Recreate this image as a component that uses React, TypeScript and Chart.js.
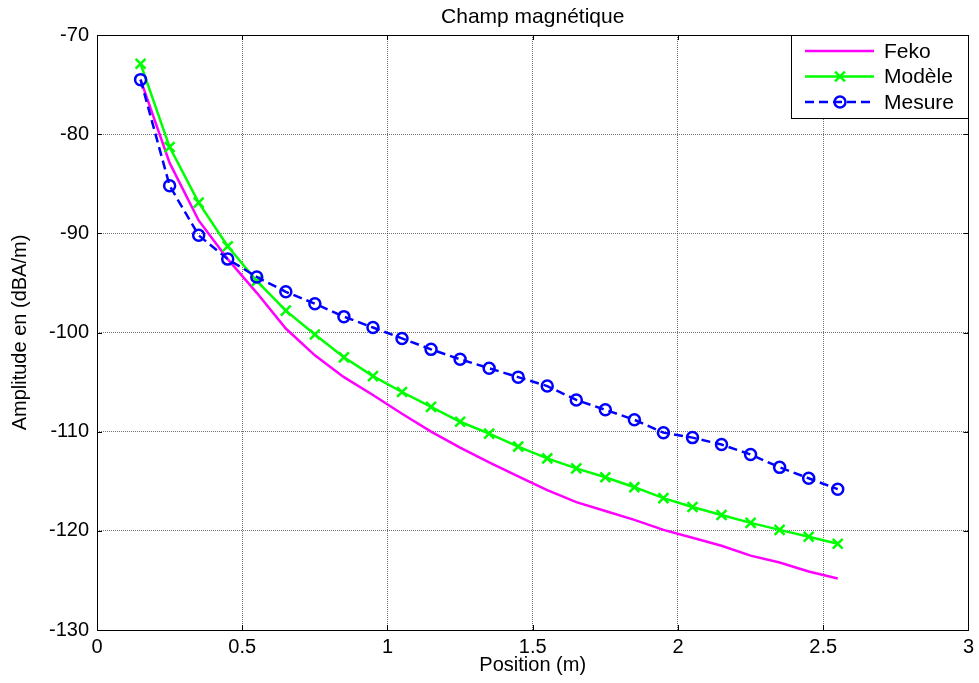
import React, { useEffect, useRef } from "react";
import { Chart, registerables } from "chart.js";

Chart.register(...registerables);

const positions = [0.15, 0.25, 0.35, 0.45, 0.55, 0.65, 0.75, 0.85, 0.95, 1.05, 1.15, 1.25, 1.35, 1.45, 1.55, 1.65, 1.75, 1.85, 1.95, 2.05, 2.15, 2.25, 2.35, 2.45, 2.55];
const feko = [-74.5, -82.9, -88.7, -92.6, -96.0, -99.6, -102.3, -104.5, -106.3, -108.2, -110.0, -111.6, -113.1, -114.5, -115.9, -117.1, -118.0, -118.9, -119.9, -120.7, -121.5, -122.5, -123.2, -124.1, -124.8];
const modele = [-72.9, -81.3, -86.9, -91.3, -94.8, -97.8, -100.2, -102.5, -104.4, -106.0, -107.5, -109.0, -110.2, -111.5, -112.7, -113.7, -114.6, -115.6, -116.7, -117.6, -118.4, -119.2, -119.9, -120.6, -121.3];
const mesure = [-74.5, -85.2, -90.2, -92.6, -94.4, -95.9, -97.1, -98.4, -99.5, -100.6, -101.7, -102.7, -103.6, -104.5, -105.4, -106.8, -107.8, -108.8, -110.1, -110.6, -111.3, -112.3, -113.6, -114.7, -115.8];
const xTicks = [0, 0.5, 1, 1.5, 2, 2.5, 3];
const yTicks = [-130, -120, -110, -100, -90, -80, -70];
const seriesLabels = ["Feko", "Modèle", "Mesure"];
const titleText = "Champ magnétique";
const xTitle = "Position (m)";
const yTitle = "Amplitude en (dBA/m)";

const FONT = "'Liberation Sans', Arial, Helvetica, sans-serif";

function drawMarker(ctx: CanvasRenderingContext2D, style: string, x: number, y: number, r: number) {
  ctx.beginPath();
  if (style === "crossRot") {
    ctx.moveTo(x - r * 0.7071, y - r * 0.7071);
    ctx.lineTo(x + r * 0.7071, y + r * 0.7071);
    ctx.moveTo(x + r * 0.7071, y - r * 0.7071);
    ctx.lineTo(x - r * 0.7071, y + r * 0.7071);
  } else if (style === "circle") {
    ctx.arc(x, y, r, 0, Math.PI * 2);
  }
  ctx.stroke();
}

const boxPlugin = {
  id: "matlabBox",
  afterDatasetsDraw(chart: any) {
    const { ctx, chartArea: ca, scales } = chart;
    ctx.save();
    ctx.strokeStyle = "#000";
    ctx.lineWidth = 1;
    ctx.setLineDash([]);
    ctx.strokeRect(Math.round(ca.left) + 0.5, Math.round(ca.top) + 0.5, Math.round(ca.right - ca.left), Math.round(ca.bottom - ca.top));
    const tl = 5;
    ctx.beginPath();
    for (const v of xTicks) {
      const px = Math.round(scales.x.getPixelForValue(v)) + 0.5;
      ctx.moveTo(px, ca.bottom);
      ctx.lineTo(px, ca.bottom - tl);
      ctx.moveTo(px, ca.top);
      ctx.lineTo(px, ca.top + tl);
    }
    for (const v of yTicks) {
      const py = Math.round(scales.y.getPixelForValue(v)) + 0.5;
      ctx.moveTo(ca.left, py);
      ctx.lineTo(ca.left + tl, py);
      ctx.moveTo(ca.right, py);
      ctx.lineTo(ca.right - tl, py);
    }
    ctx.stroke();
    ctx.restore();
  },
};

const legendPlugin = {
  id: "matlabLegend",
  afterDraw(chart: any) {
    const { ctx, chartArea: ca } = chart;
    const w = 177;
    const h = 83;
    const x0 = Math.round(ca.right) - w;
    const y0 = Math.round(ca.top);
    ctx.save();
    ctx.fillStyle = "#fff";
    ctx.fillRect(x0, y0, w, h);
    ctx.strokeStyle = "#000";
    ctx.lineWidth = 1;
    ctx.setLineDash([]);
    ctx.strokeRect(x0 + 0.5, y0 + 0.5, w, h);
    chart.data.datasets.forEach((ds: any, i: number) => {
      const y = y0 + 16 + i * 25.5;
      ctx.setLineDash(ds.borderDash || []);
      ctx.strokeStyle = ds.borderColor;
      ctx.lineWidth = ds.borderWidth;
      ctx.beginPath();
      ctx.moveTo(x0 + 14, y);
      ctx.lineTo(x0 + 83, y);
      ctx.stroke();
      ctx.setLineDash([]);
      if (ds.pointRadius > 0) {
        ctx.lineWidth = ds.pointBorderWidth;
        ctx.strokeStyle = ds.pointBorderColor;
        drawMarker(ctx, ds.pointStyle, x0 + 49, y, ds.pointRadius);
      }
      ctx.fillStyle = "#000";
      ctx.font = `21px ${FONT}`;
      ctx.textBaseline = "middle";
      ctx.textAlign = "left";
      ctx.fillText(ds.label, x0 + 93, y + 1);
    });
    ctx.restore();
  },
};

export default function App() {
  const canvasRef = useRef<HTMLCanvasElement | null>(null);

  useEffect(() => {
    if (!canvasRef.current) return;
    const toPts = (ys: number[]) => positions.map((x, i) => ({ x, y: ys[i] }));
    const chart = new Chart(canvasRef.current, {
      type: "line",
      data: {
        datasets: [
          {
            label: seriesLabels[0],
            data: toPts(feko),
            borderColor: "#ff00ff",
            backgroundColor: "#ff00ff",
            borderWidth: 2.5,
            pointRadius: 0,
            pointHoverRadius: 0,
            fill: false,
            tension: 0,
            order: 2,
          },
          {
            label: seriesLabels[1],
            data: toPts(modele),
            borderColor: "#00ff00",
            backgroundColor: "#00ff00",
            borderWidth: 2.5,
            pointStyle: "crossRot",
            pointRadius: 7,
            pointBorderWidth: 2.5,
            pointBorderColor: "#00ff00",
            pointBackgroundColor: "#00ff00",
            fill: false,
            tension: 0,
            order: 1,
          },
          {
            label: seriesLabels[2],
            data: toPts(mesure),
            borderColor: "#0000ff",
            backgroundColor: "rgba(0,0,0,0)",
            borderWidth: 2.5,
            borderDash: [9, 5],
            pointStyle: "circle",
            pointRadius: 5.5,
            pointBorderWidth: 2.5,
            pointBorderColor: "#0000ff",
            pointBackgroundColor: "rgba(0,0,0,0)",
            fill: false,
            tension: 0,
            order: 0,
          },
        ],
      },
      options: {
        responsive: false,
        animation: false,
        events: [],
        layout: { padding: { left: 0, right: 6, top: 0, bottom: 0 } },
        plugins: {
          legend: { display: false },
          tooltip: { enabled: false },
          title: {
            display: true,
            text: titleText,
            fullSize: false,
            color: "#000",
            font: { family: FONT, size: 21, weight: "normal", lineHeight: 1.2 },
            padding: { top: 4.4, bottom: 5.4 },
          },
        },
        scales: {
          x: {
            type: "linear",
            min: 0,
            max: 3,
            afterBuildTicks: (s: any) => {
              s.ticks = xTicks.map((v) => ({ value: v }));
            },
            afterFit: (s: any) => {
              s.height = 53;
            },
            ticks: {
              color: "#000",
              padding: 5,
              maxRotation: 0,
              autoSkip: false,
              font: { family: FONT, size: 20, lineHeight: 1.2 },
              callback: (v: any) => String(v),
            },
            grid: { color: "rgba(0,0,0,0.55)", lineWidth: 1, drawTicks: false },
            border: { display: false, dash: [1, 1] },
            title: {
              display: true,
              text: xTitle,
              color: "#000",
              font: { family: FONT, size: 20, lineHeight: 1.2 },
              padding: { top: 0, bottom: 6 },
            },
          },
          y: {
            type: "linear",
            min: -130,
            max: -70,
            afterBuildTicks: (s: any) => {
              s.ticks = yTicks.map((v) => ({ value: v }));
            },
            afterFit: (s: any) => {
              s.width = 97;
            },
            ticks: {
              color: "#000",
              padding: 8,
              autoSkip: false,
              font: { family: FONT, size: 20, lineHeight: 1.2 },
              callback: (v: any) => String(v),
            },
            grid: { color: "rgba(0,0,0,0.55)", lineWidth: 1, drawTicks: false },
            border: { display: false, dash: [1, 1] },
            title: {
              display: true,
              text: yTitle,
              color: "#000",
              font: { family: FONT, size: 20, lineHeight: 1.2 },
              padding: { top: 8, bottom: 0 },
            },
          },
        },
      },
      plugins: [boxPlugin, legendPlugin],
    });
    return () => chart.destroy();
  }, []);

  return (
    <div style={{ position: "fixed", left: 0, top: 0, width: 979, height: 683, background: "#fff" }}>
      <canvas ref={canvasRef} width={979} height={683} style={{ width: 979, height: 683, display: "block" }} />
    </div>
  );
}
